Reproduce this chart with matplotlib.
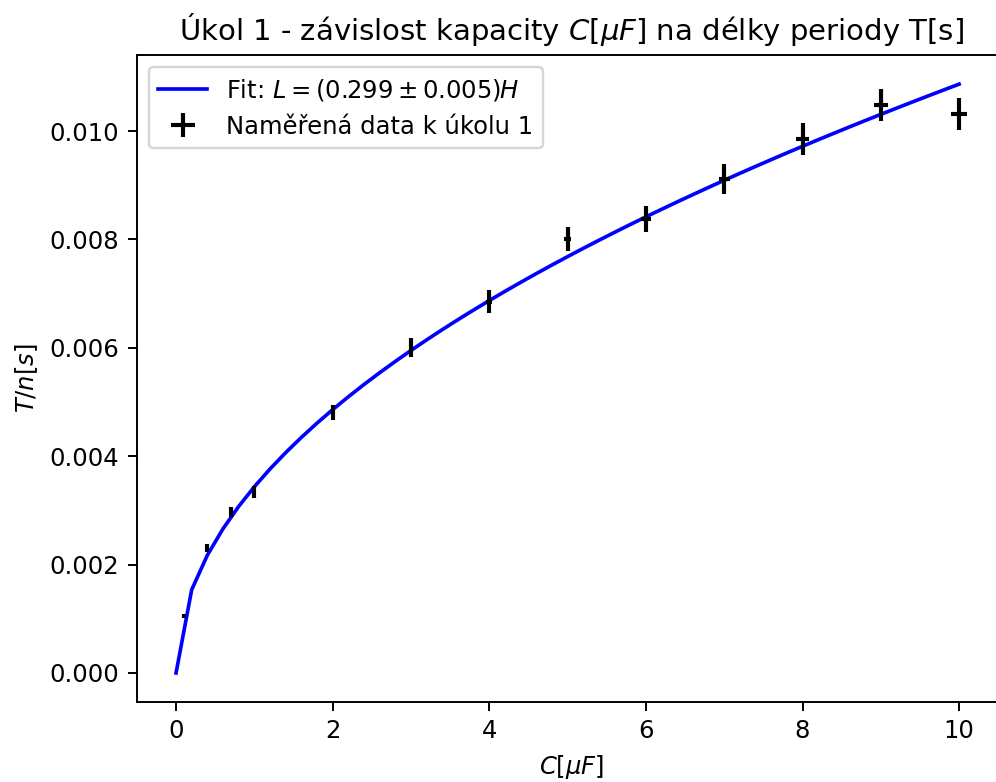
import matplotlib
matplotlib.use('Agg')
import matplotlib.pyplot as plt
import numpy as np

# measured data (task 1)
capacity = [0.1, 0.4, 0.7, 1, 2, 3, 4, 5, 6, 7, 8, 9, 10]  # uF
period = [0.00105, 0.00231, 0.00297, 0.00334, 0.00480, 0.00600, 0.00685,
          0.00801, 0.00838, 0.00911, 0.00985, 0.01048, 0.01031]  # s
period_err = [0.00004, 0.00007, 0.00010, 0.000105, 0.00014, 0.000175, 0.00021,
              0.00022, 0.00024, 0.00028, 0.00029, 0.00030, 0.00029]
capacity_err = [0.001, 0.004, 0.007, 0.01, 0.02, 0.03, 0.04,
                0.05, 0.06, 0.07, 0.08, 0.09, 0.1]

# fit result
L_fit = 0.299  # H
C_fit = np.linspace(0, 10, 51)
T_fit = 2 * np.pi * np.sqrt(L_fit * C_fit * 1e-6)

DPI = 175
W, H = 996, 782

fig = plt.figure(figsize=(W / DPI, H / DPI), dpi=DPI)
ax = fig.add_axes([136.5 / W, 79.6 / H, 870 / W, 647.7 / H])

ax.plot(C_fit, T_fit, color='blue', label=r'Fit: $L = (0.299 \pm 0.005)H$')
ax.errorbar(capacity, period, yerr=period_err, xerr=capacity_err, fmt='none',
            ecolor='black', elinewidth=1.7, label='Naměřená data k úkolu 1')

ax.set_xlabel(r'$C[\mu F]$')
ax.set_ylabel(r'$T/n[s]$')
ax.set_title(r'Úkol 1 - závislost kapacity $C[\mu F]$ na délky periody T[s]')
ax.legend(loc='upper left')
# original picture is cut off before the right spine
ax.spines['right'].set_visible(False)

fig.savefig('out.png', dpi=DPI)
